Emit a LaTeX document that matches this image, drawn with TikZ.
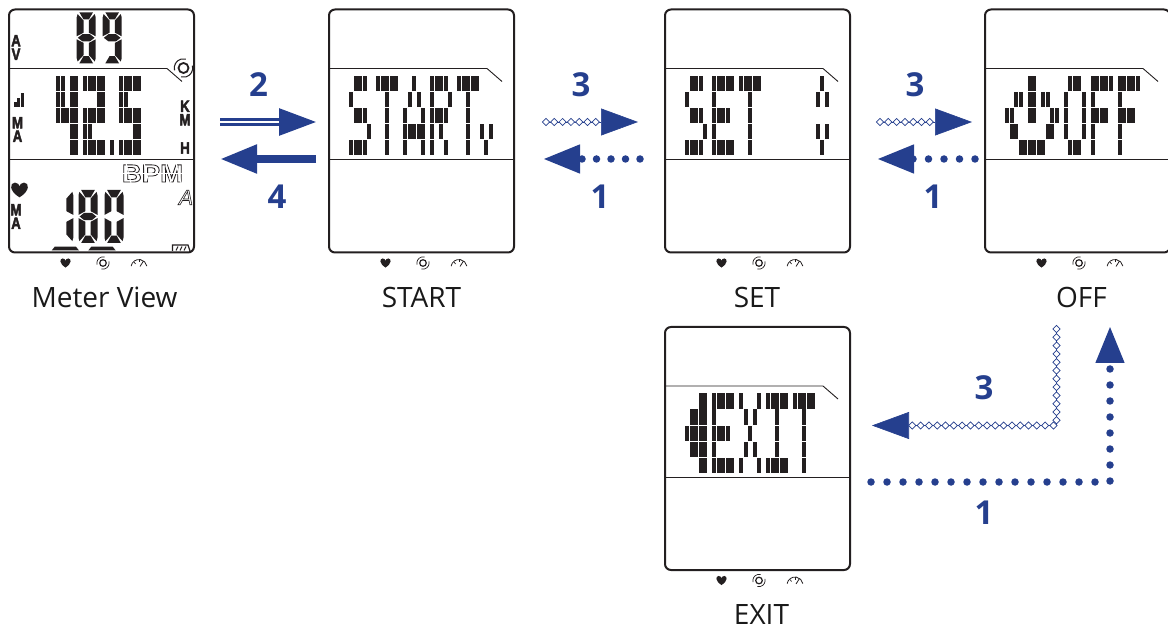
\documentclass[tikz,border=0pt]{standalone}
\usepackage{fontspec}
\usepackage{graphicx}
\setmainfont{Open Sans}
\newfontfamily\lcdfont{Liberation Sans}
\usetikzlibrary{arrows.meta,decorations.markings}

\definecolor{lcdink}{HTML}{231F20}
\definecolor{navblue}{HTML}{253F8E}

\tikzset{
    screen/.style={draw=lcdink, line width=2pt, rounded corners=6pt, minimum width=185pt,
        minimum height=243pt, inner sep=0pt, outer sep=0pt},
    caption/.style={anchor=base, inner sep=0pt, text=black!90,
        font=\fontsize{28}{30}\selectfont},
    numlabel/.style={inner sep=0pt, text=navblue, font=\fontsize{33}{35}\selectfont\bfseries},
    unitlabel/.style={inner sep=0pt, align=center, text=lcdink,
        font=\lcdfont\fontsize{16.5}{13.5}\selectfont\bfseries},
    solidarrow/.style={draw=navblue, line width=8pt, -{Triangle[length=37pt,width=27pt]}},
    doublearrow/.style={draw=navblue, line width=2.7pt, double=white, double distance=2.7pt,
        -{Triangle[length=37pt,width=27pt]}},
    dotarrow/.style={draw=navblue, line width=7.5pt, line cap=round, dash pattern=on 0pt off 16pt,
        -{Triangle[length=37pt,width=27pt]}},
    chainarrow/.style={draw=navblue, line width=.6pt, -{Triangle[length=37pt,width=27pt]},
        postaction={decorate, decoration={markings,
            mark=between positions 3pt and -38pt step 8.3pt with {
                \filldraw[draw=navblue, fill=white, line width=.7pt]
                    (-3.6,0) -- (0,-3.6) -- (3.6,0) -- (0,3.6) -- cycle;
            }}}}
}

% stroked glyphs: #1 is the render mode, #2 the stroke width
\newcommand{\strokedtext}[3]{\special{pdf:code q #1 Tr #2 w}#3\special{pdf:code Q}}
\newcommand{\unitglyph}[1]{\scalebox{.8}[1]{\strokedtext{2}{.5}{#1}}}

% one seven-segment digit, unit square
\newcommand{\lcdsega}{\fill (.14,0) -- (.86,0) -- (.64,.14) -- (.36,.14) -- cycle;}
\newcommand{\lcdsegb}{\fill (.95,.035) -- (.64,.16) -- (.64,.40) -- (1,.47) -- (1,.10) -- cycle;}
\newcommand{\lcdsegc}{\fill (1,.53) -- (.64,.60) -- (.64,.84) -- (.95,.965) -- (1,.90) -- cycle;}
\newcommand{\lcdsegd}{\fill (.14,1) -- (.86,1) -- (.64,.86) -- (.36,.86) -- cycle;}
\newcommand{\lcdsege}{\fill (0,.53) -- (.36,.60) -- (.36,.84) -- (.05,.965) -- (0,.90) -- cycle;}
\newcommand{\lcdsegf}{\fill (.05,.035) -- (.36,.16) -- (.36,.40) -- (0,.47) -- (0,.10) -- cycle;}
\newcommand{\lcdsegg}{\fill (.06,.50) -- (.3,.43) -- (.7,.43) -- (.94,.50) -- (.7,.57) -- (.3,.57) -- cycle;}
\newcommand{\lcddigit}[3]{
    \begin{scope}[shift={(#1)}, x=19pt, y=-#2pt, lcdink]
        \foreach \s in {#3} {\csname lcdseg\s\endcsname}
    \end{scope}
}

% dot-matrix bars inside a screen: row/{columns}
\newcommand{\lcdbars}[2]{
    \begin{scope}[shift={(#1.north west)}]
        \foreach \r/\cols in {#2}
            \foreach \c in \cols
                \fill[lcdink] ({20.3+4.5*\c},{66.5+16*\r}) rectangle ++(3.9,15.4);
    \end{scope}
}

\newcommand{\heartmark}[3]{
    \begin{scope}[shift={(#1,#2)}, x=#3pt, y=-#3pt, yscale=.82]
        \fill[lcdink] (0,.5) .. controls (-.6,.05) and (-.55,-.5) .. (-.25,-.5)
            .. controls (-.1,-.5) and (0,-.35) .. (0,-.25)
            .. controls (0,-.35) and (.1,-.5) .. (.25,-.5)
            .. controls (.55,-.5) and (.6,.05) .. (0,.5) -- cycle;
    \end{scope}
}
\newcommand{\ringmark}[4]{
    \draw[lcdink, line width=#4pt] (#1,#2) circle (#3);
    \draw[lcdink, line width=.6*#4pt] ([shift={(165:1.85*#3)}]#1,#2) arc [start angle=165, end angle=285, radius=1.85*#3];
    \draw[lcdink, line width=.6*#4pt] ([shift={(345:1.85*#3)}]#1,#2) arc [start angle=345, end angle=465, radius=1.85*#3];
}

% frame of one screen: dividers and the three marks below it
\newcommand{\lcdframe}[1]{
    \begin{scope}[shift={(#1.north west)}]
        \draw[lcdink, line width=.9pt] (0,59) -- (158,59) -- (173,72);
        \draw[lcdink, line width=.9pt] (0,150) -- (185,150);
        \heartmark{56.5}{253.5}{11}
        \ringmark{94}{253.5}{3.3}{1.2}
        \draw[lcdink, line width=.8pt] ([shift={(190:8)}]130,258) arc [start angle=190, end angle=350, radius=8];
        \draw[lcdink, line width=.8pt] (131,257) -- (134.5,251.5);
        \draw[lcdink, line width=.7pt] (125,252.5) -- (126.5,254.5);
        \draw[lcdink, line width=.7pt] (130,250) -- (130,252.5);
    \end{scope}
}

\begin{document}
\begin{tikzpicture}[x=1pt, y=-1pt]
    \path[use as bounding box] (0,0) rectangle (1168,628);

    % Screens
    \node (meter) [screen] at (101.5,131) {};
    \node (start) [screen] at (421.5,131) {};
    \node (set)   [screen] at (757.5,131) {};
    \node (off)   [screen] at (1077.5,131) {};
    \node (exit)  [screen] at (757.5,448.5) {};
    \foreach \n in {meter,start,set,off,exit} {
        \lcdframe{\n}
    }

    % Captions
    \node (capmeter) [caption] at (104.5,308) {Meter View};
    \node (capstart) [caption] at (421.5,308) {START};
    \node (capset)   [caption] at (757,308) {SET};
    \node (capoff)   [caption] at (1081.5,308) {OFF};
    \node (capexit)  [caption] at (761.5,624) {EXIT};

    % Screen texts
    \lcdbars{start}{0/{1,2,3,6,7,8,9,10,14,18,19,20,21,24,25,26,27,28},
        1/{0,8,13,15,18,22,26},
        2/{1,2,3,8,12,16,18,19,20,21,26},
        3/{4,8,12,13,14,15,16,18,20,26,29,31},
        4/{0,1,2,3,8,12,16,18,21,26,30}}
    \lcdbars{set}{0/{1,2,3,6,7,8,9,10,12,13,14,15,16,30},
        1/{0,6,14,29,31},
        2/{1,2,3,6,7,8,9,14},
        3/{4,6,14,29,31},
        4/{0,1,2,3,6,7,8,9,10,14,30}}
    \lcdbars{off}{0/{5,6,14,15,16,19,20,21,22,23,25,26,27,28,29},
        1/{2,3,5,6,8,9,13,17,19,25},
        2/{0,1,5,6,10,11,13,17,19,20,21,22,25,26,27,28},
        3/{1,2,9,10,13,17,19,25},
        4/{3,4,5,6,7,8,14,15,16,19,25}}
    \lcdbars{exit}{0/{3,4,6,7,8,9,10,12,16,18,19,20,21,22,24,25,26,27,28},
        1/{1,2,3,4,6,13,15,20,26},
        2/{0,1,2,3,4,6,7,8,9,14,20,26},
        3/{1,2,3,4,6,13,15,20,26},
        4/{3,4,6,7,8,9,10,12,16,18,19,20,21,22,26}}
    \lcdbars{meter}{0/{6,7,9,10,12,13,14,15,16,20,21,22,23,24},
        1/{6,7,9,10,15,16,20,21},
        2/{6,7,8,9,10,12,13,14,15,16,20,21,22,23,24},
        3/{9,10,12,13,23,24},
        4/{9,10,12,13,14,15,16,18,20,21,22,23,24}}

    % Meter view readings
    \lcddigit{76.7,12.3}{51}{a,b,c,d,e,f,g}
    \lcddigit{102.7,12.3}{51}{a,b,c,d,f,g}
    \lcddigit{54.3,190}{53}{b,c}
    \lcddigit{78.5,190}{53}{a,b,c,d,e,f,g}
    \lcddigit{104.5,190}{53}{a,b,c,d,e,f}

    \node (unitav)  [unitlabel] at (16,47.5) {\unitglyph{A}\\\unitglyph{V}};
    \node (unitma)  [unitlabel] at (17.5,129.5) {\unitglyph{M}\\\unitglyph{A}};
    \node (unitkm)  [unitlabel] at (185,113) {\unitglyph{K}\\\unitglyph{M}};
    \node (unith)   [unitlabel] at (185,148) {\unitglyph{H}};
    \node (unitmb)  [unitlabel] at (16,216.5) {\unitglyph{M}\\\unitglyph{A}};

    % Signal bars
    \foreach \x/\y in {13.5/102,17.3/98,21/93}
        \fill[lcdink] (\x,\y) rectangle (\x+3,107);

    \heartmark{19.5}{190}{18}
    \ringmark{183.5}{68}{5}{1.8}

    % Outlined readings
    \node (bpm) [inner sep=0pt, text=lcdink, font=\lcdfont\fontsize{25}{27}\selectfont\bfseries]
        at (152.5,173.5) {\scalebox{1.1}[1]{\strokedtext{1}{.8}{BPM}}};
    \draw[white, line width=1.1pt] (120,173.4) -- (185,173.4);
    \foreach \x in {126,144,166,176}
        \draw[white, line width=1pt] (\x,163) -- (\x+5,183);
    \node (modea) [inner sep=0pt, text=lcdink, font=\lcdfont\fontsize{21}{23}\selectfont\itshape]
        at (186,197.5) {\strokedtext{1}{.6}{A}};

    % Lap marks and battery
    \fill[lcdink] (54.7,246.7) -- (76,246.7) -- (79,250.5) -- (51.7,250.5) -- cycle;
    \fill[lcdink] (91.3,246.7) -- (112.7,246.7) -- (115.7,250.5) -- (88.3,250.5) -- cycle;
    \draw[lcdink, line width=1.2pt] (172.5,251) -- (172.5,245) -- (188,245) -- (190,251);
    \foreach \x in {176,180,184}
        \draw[lcdink, line width=1pt] (\x,250.5) -- (\x+2,246.5);

    % Free ends of the chain arrows
    \coordinate (chainastart) at ([shift={(29pt,9pt)}]start.east);
    \coordinate (chainaset)   at ([shift={(-27pt,9pt)}]set.west);
    \coordinate (chainbset)   at ([shift={(27pt,9pt)}]set.east);
    \coordinate (chainboff)   at ([shift={(-13pt,9pt)}]off.west);
    \coordinate (chaincoff)   at (1056.5,326);
    \coordinate (chaincexit)  at ([shift={(22pt,23pt)}]exit.east);
    \coordinate (dotcexit)    at ([shift={(21pt,-33.5pt)}]exit.east);
    \coordinate (dotcoff)     at (1110,326);

    % Arrows
    \draw[doublearrow, shorten <=26pt, shorten >=13pt] ([yshift=9pt]meter.east) -- ([yshift=9pt]start.west);
    \draw[solidarrow, shorten <=13pt, shorten >=26pt] ([yshift=-28pt]start.west) -- ([yshift=-28pt]meter.east);
    \draw[chainarrow] (chainastart) -- (chainaset);
    \draw[dotarrow, dash pattern=on 0pt off 14.5pt, shorten <=25pt, shorten >=29pt] ([yshift=-28pt]set.west) -- ([yshift=-28pt]start.east);
    \draw[chainarrow] (chainbset) -- (chainboff);
    \draw[dotarrow, dash pattern=on 0pt off 15.5pt, shorten <=10pt, shorten >=27pt] ([yshift=-28pt]off.west) -- ([yshift=-28pt]set.east);
    \draw[chainarrow] (chaincoff) |- (chaincexit);
    \draw[dotarrow] (dotcexit) -| (dotcoff);

    % Step numbers
    \node (numa) [numlabel] at (258.5,85) {2};
    \node (numb) [numlabel] at (277,197) {4};
    \node (numc) [numlabel] at (581,85) {3};
    \node (numd) [numlabel] at (600,197) {1};
    \node (nume) [numlabel] at (915,85) {3};
    \node (numf) [numlabel] at (933,197) {1};
    \node (numg) [numlabel] at (984,388) {3};
    \node (numh) [numlabel] at (984,513) {1};
\end{tikzpicture}
\end{document}
